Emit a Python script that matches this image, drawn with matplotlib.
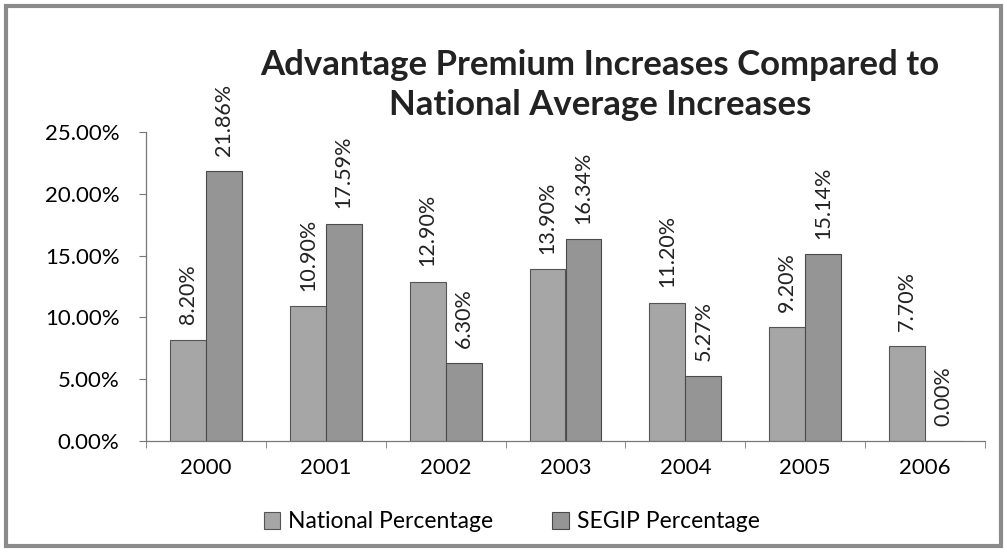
import numpy as np
import matplotlib.pyplot as plt
from matplotlib.patches import Rectangle

plt.rcParams['font.family'] = ['Lato', 'DejaVu Sans']

years = ['2000', '2001', '2002', '2003', '2004', '2005', '2006']
national = [8.20, 10.90, 12.90, 13.90, 11.20, 9.20, 7.70]
segip = [21.86, 17.59, 6.30, 16.34, 5.27, 15.14, 0.00]

fig = plt.figure(figsize=(10.07, 5.52), dpi=100)
ax = fig.add_axes([146 / 1007, 1 - 441 / 552, (985 - 146) / 1007, (441 - 132) / 552])

x = np.arange(len(years))
w = 0.3
b1 = ax.bar(x - w / 2, national, w, color='#a6a6a6', edgecolor='#555555',
            linewidth=0.8, label='National Percentage')
b2 = ax.bar(x + w / 2, segip, w, color='#959595', edgecolor='#4a4a4a',
            linewidth=0.8, label='SEGIP Percentage')

# value labels, rotated, sitting just above each bar
for bars, vals in ((b1, national), (b2, segip)):
    for rect, v in zip(bars, vals):
        ax.annotate(f'{v:.2f}%', (rect.get_x() + rect.get_width() / 2, v),
                    xytext=(0, 11), textcoords='offset points', rotation=90,
                    ha='center', va='bottom', fontsize=15.5, color='#222222',
                    annotation_clip=False)

ax.set_xlim(-0.5, len(years) - 0.5)
ax.set_ylim(0, 25)
ax.set_yticks(np.arange(0, 26, 5))
ax.set_yticklabels([f'{t:.2f}%' for t in np.arange(0, 26, 5)])
ax.set_xticks(x)
ax.set_xticklabels(years)
ax.set_xticks(np.arange(-0.5, len(years), 1), minor=True)
ax.tick_params(axis='x', which='major', length=0, pad=12, labelsize=16)
ax.tick_params(axis='x', which='minor', length=5, color='#777777', direction='out')
ax.tick_params(axis='y', length=5, color='#777777', labelsize=16, pad=14)
for side in ('top', 'right'):
    ax.spines[side].set_visible(False)
for side in ('left', 'bottom'):
    ax.spines[side].set_color('#777777')
    ax.spines[side].set_linewidth(0.9)

fig.text(0.596, 1 - 85 / 552, 'Advantage Premium Increases Compared to\nNational Average Increases',
         ha='center', va='center', fontsize=25, fontweight='bold', color='#222222',
         linespacing=1.28)

leg = fig.legend(handles=[b1, b2], loc='center', bbox_to_anchor=(0.508, 1 - 522 / 552),
                 ncol=2, frameon=False, fontsize=16.5, handlelength=0.7, handleheight=0.7,
                 handletextpad=0.35, columnspacing=2.6)

fig.patches.append(Rectangle((6 / 1007, 6 / 552), 995 / 1007, 540 / 552,
                             transform=fig.transFigure, fill=False,
                             edgecolor='#8a8a8a', linewidth=3))

fig.savefig('out.png', dpi=100)
